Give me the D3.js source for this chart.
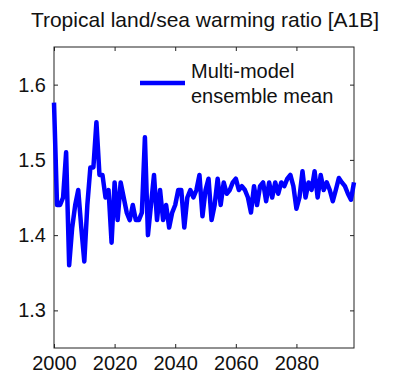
<!DOCTYPE html>
<html>
<head>
<meta charset="utf-8">
<script src="https://cdn.jsdelivr.net/npm/d3@7"></script>
<style>
  body { margin: 0; background: #fff; }
  text { font-family: Arial, "Liberation Sans", sans-serif; fill: #111; }
</style>
</head>
<body>
<div id="chart"></div>
<script>
// yearly multi-model mean
var years = d3.range(2000, 2100);
var ratio = [
  1.576, 1.44, 1.44, 1.45, 1.51, 1.36, 1.41, 1.44, 1.46, 1.41,
  1.365, 1.44, 1.49, 1.49, 1.55, 1.48, 1.48, 1.45, 1.46, 1.39,
  1.47, 1.42, 1.47, 1.45, 1.43, 1.42, 1.44, 1.42, 1.42, 1.43,
  1.53, 1.40, 1.44, 1.48, 1.42, 1.46, 1.42, 1.44, 1.41, 1.43,
  1.44, 1.46, 1.46, 1.41, 1.45, 1.46, 1.45, 1.46, 1.48, 1.425,
  1.46, 1.475, 1.42, 1.44, 1.475, 1.44, 1.47, 1.455, 1.46, 1.47,
  1.475, 1.46, 1.465, 1.46, 1.45, 1.43, 1.465, 1.44, 1.465, 1.47,
  1.445, 1.47, 1.45, 1.47, 1.455, 1.47, 1.465, 1.475, 1.48, 1.465,
  1.435, 1.45, 1.485, 1.45, 1.47, 1.46, 1.485, 1.45, 1.48, 1.46,
  1.47, 1.46, 1.445, 1.46, 1.476, 1.47, 1.465, 1.455, 1.447, 1.47
];
var xTicks = [2000, 2020, 2040, 2060, 2080];
var yTicks = [1.3, 1.4, 1.5, 1.6];
var titleText = "Tropical land/sea warming ratio [A1B]";
var legendLines = ["Multi-model", "ensemble mean"];

var W = 397, H = 373;
// plot box (note: "top" is taken by window.top, so prefixed names)
var pLeft = 54, pRight = 354, pTop = 47, pBottom = 348;

var svg = d3.select("#chart").append("svg")
  .attr("width", W)
  .attr("height", H);

var x = d3.scaleLinear().domain([2000, 2099]).range([pLeft, pRight]);
var y = d3.scaleLinear().domain([1.25, 1.65]).range([pBottom, pTop]);

// axes, matlab style: ticks inward on all four sides
svg.append("g")
  .attr("transform", "translate(0," + pBottom + ")")
  .call(d3.axisBottom(x).tickValues(xTicks).tickFormat(d3.format("d")).tickSizeInner(-4).tickSizeOuter(0).tickPadding(8))
  .call(function(g) { g.selectAll("text").attr("font-size", 20).attr("dy", "0.71em"); });

svg.append("g")
  .attr("transform", "translate(0," + pTop + ")")
  .call(d3.axisTop(x).tickValues(xTicks).tickFormat("").tickSizeInner(-4).tickSizeOuter(0));

svg.append("g")
  .attr("transform", "translate(" + pLeft + ",0)")
  .call(d3.axisLeft(y).tickValues(yTicks).tickFormat(d3.format(".1f")).tickSizeInner(-4).tickSizeOuter(0).tickPadding(8))
  .call(function(g) { g.selectAll("text").attr("font-size", 20); });

svg.append("g")
  .attr("transform", "translate(" + pRight + ",0)")
  .call(d3.axisRight(y).tickValues(yTicks).tickFormat("").tickSizeInner(-4).tickSizeOuter(0));

svg.selectAll(".domain").remove();
svg.selectAll(".tick line").attr("stroke", "#222");

svg.append("rect")
  .attr("x", pLeft).attr("y", pTop)
  .attr("width", pRight - pLeft).attr("height", pBottom - pTop)
  .attr("fill", "none").attr("stroke", "#222").attr("stroke-width", 1);

// data line
var line = d3.line()
  .x(function(d, i) { return x(years[i]); })
  .y(function(d) { return y(d); });

svg.append("path")
  .datum(ratio)
  .attr("d", line)
  .attr("fill", "none")
  .attr("stroke", "#0000ff")
  .attr("stroke-width", 4.5)
  .attr("stroke-linejoin", "round");

// legend
svg.append("line")
  .attr("x1", 140).attr("x2", 185)
  .attr("y1", 83).attr("y2", 83)
  .attr("stroke", "#0000ff").attr("stroke-width", 4.5);

svg.selectAll(".leg")
  .data(legendLines)
  .enter().append("text")
  .attr("class", "leg")
  .attr("x", 191)
  .attr("y", function(d, i) { return 78 + i * 25; })
  .attr("font-size", 20)
  .text(function(d) { return d; });

// title
svg.append("text")
  .attr("x", (pLeft + pRight) / 2 + 1)
  .attr("y", 27)
  .attr("text-anchor", "middle")
  .attr("font-size", 21)
  .text(titleText);
</script>
</body>
</html>
